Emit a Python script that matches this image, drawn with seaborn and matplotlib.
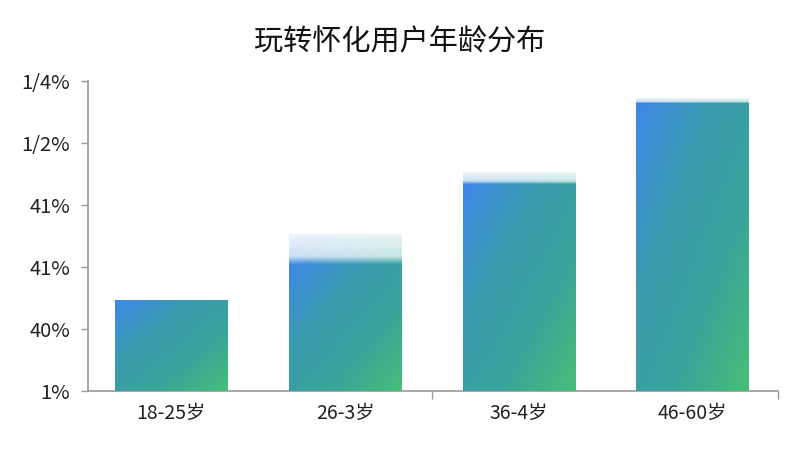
import numpy as np
import matplotlib.pyplot as plt
import seaborn as sns
from matplotlib.colors import LinearSegmentedColormap, to_rgb

labels = ["18-25岁", "26-3岁", "36-4岁", "46-60岁"]
values = [1.47, 2.05, 3.34, 4.65]
fade_tops = [1.47, 2.53, 3.53, 4.73]
tick_vals = [0, 1, 2, 3, 4, 5]
tick_labels = ["1%", "40%", "41%", "41%", "1/2%", "1/4%"]
title = "玩转怀化用户年龄分布"

sns.set_style("white")
plt.rcParams["font.family"] = ["Noto Sans CJK SC", "DejaVu Sans"]

fig = plt.figure(figsize=(8, 4.5), dpi=100)
ax = fig.add_axes([0.11, 0.131, 0.8625, 0.689])

# faded caps first, then the solid bars on top
sns.barplot(x=labels, y=fade_tops, width=0.65, color="white", ax=ax)
sns.barplot(x=labels, y=values, width=0.65, color="white", ax=ax)
for p in ax.patches:
    p.set_facecolor((1, 1, 1, 0))
    p.set_edgecolor("none")

cmap = LinearSegmentedColormap.from_list("bar", ["#3d88e8", "#3a9bb0", "#3ba39a", "#48be78"])

n = len(labels)
fade_patches = ax.patches[:n]
bar_patches = ax.patches[n:]

# solid bars: diagonal blue -> teal -> green gradient
u = np.linspace(0, 1, 80)[None, :]
v = np.linspace(0, 1, 200)[:, None]
for p in bar_patches:
    x0, y0 = p.get_x(), p.get_y()
    w, h = p.get_width(), p.get_height()
    g = np.clip(0.5 * u + 0.5 * v, 0, 1)
    im = ax.imshow(g, cmap=cmap, vmin=0, vmax=1, extent=[x0, x0 + w, y0, y0 + h],
                   origin="upper", aspect="auto", zorder=3, interpolation="bilinear")
    im.set_clip_path(p)

# faded caps above the bars
c_left = np.array(to_rgb("#4a8fe0"))
c_right = np.array(to_rgb("#3aa8a0"))
for p, top, val in zip(fade_patches, fade_tops, values):
    if top - val < 0.01:
        continue
    x0, w = p.get_x(), p.get_width()
    uu = np.linspace(0, 1, 60)
    vv = np.linspace(0, 1, 60)
    rgba = np.zeros((60, 60, 4))
    rgba[..., :3] = c_left[None, None, :] * (1 - uu[None, :, None]) + c_right[None, None, :] * uu[None, :, None]
    alpha = 0.1 + 0.25 * vv
    alpha = np.where(vv > 0.75, 0.29 + (vv - 0.75) / 0.25 * 0.71, alpha)
    rgba[..., 3] = alpha[:, None]
    ax.imshow(rgba, extent=[x0, x0 + w, val, top], origin="upper",
              aspect="auto", zorder=2, interpolation="bilinear")

ax.set_xlim(-0.48, 3.49)
ax.set_ylim(0, 5)
ax.set_yticks(tick_vals)
ax.set_yticklabels(tick_labels, fontsize=14.5, color="#222222")
ax.tick_params(axis="y", left=True, length=5, width=1, color="#999999", pad=8)
ax.tick_params(axis="x", which="major", bottom=False, labelsize=14, labelcolor="#222222", pad=5)
ax.set_xticks([1.5, 3.49], minor=True)
ax.tick_params(axis="x", which="minor", bottom=True, length=6, width=1, color="#999999")

for side in ["top", "right"]:
    ax.spines[side].set_visible(False)
for side in ["left", "bottom"]:
    ax.spines[side].set_color("#999999")
    ax.spines[side].set_linewidth(1.2)
ax.set_xlabel("")
ax.set_ylabel("")

fig.text(0.5, 0.905, title, ha="center", va="center", fontsize=21, color="#111111")

fig.savefig("out.png", dpi=100)
